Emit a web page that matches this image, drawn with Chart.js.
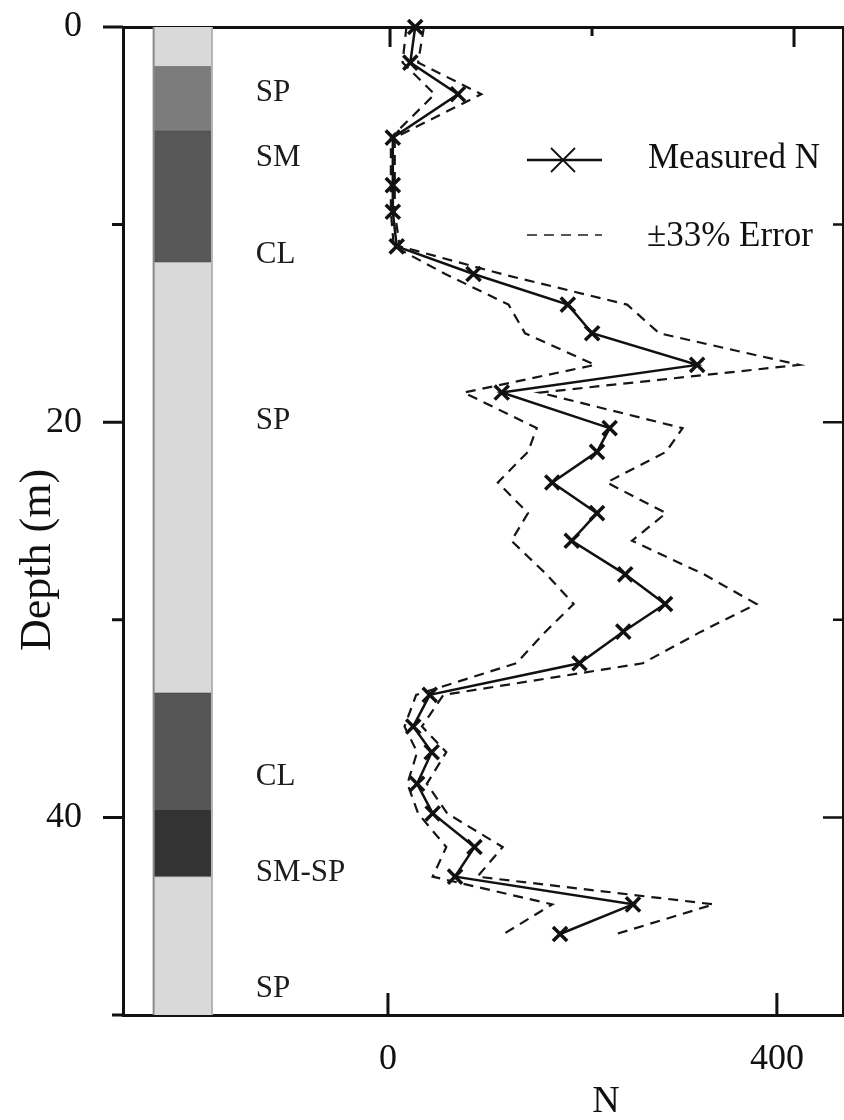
<!DOCTYPE html>
<html>
<head>
<meta charset="utf-8">
<script src="https://cdn.jsdelivr.net/npm/chart.js@4/dist/chart.umd.min.js"></script>
<style>
  html, body { margin: 0; padding: 0; background: #fff; }
  #wrap { width: 844px; height: 1120px; }
</style>
</head>
<body>
<div id="wrap"><canvas id="sptChart"></canvas></div>
<script>
// SPT blow count profile with soil column
const depths = [0, 1.8, 3.4, 5.6, 8.0, 9.35, 11.1, 12.5, 14.05, 15.5, 17.1, 18.5, 20.3, 21.5, 23.05,
                24.6, 26.0, 27.7, 29.2, 30.6, 32.2, 33.8, 35.4, 36.7, 38.3, 39.8, 41.5, 43.0, 44.4, 45.9];
const measuredN = [28, 23, 72, 5, 5, 5, 9, 88, 185, 210, 318, 117, 228, 215, 169,
                   215, 189, 244, 285, 242, 197, 43, 26, 45, 30, 46, 89, 69, 252, 177];
const upperN = [37, 31, 96, 7, 7, 7, 12, 117, 246, 279, 423, 156, 303, 286, 225,
                286, 251, 325, 379, 322, 262, 57, 35, 60, 40, 61, 118, 92, 335, 235];
const lowerN = [19, 15, 48, 3, 3, 3, 6, 59, 124, 141, 213, 78, 153, 144, 113,
                144, 127, 163, 191, 162, 132, 29, 17, 30, 20, 31, 60, 46, 169, 119];

// soil layers (depth in m)
const layerTops = [0, 2.0, 5.25, 11.9, 33.7, 39.6, 43.0];
const layerBottoms = [2.0, 5.25, 11.9, 33.7, 39.6, 43.0, 50];
const soilLabels = ['SP', 'SM', 'CL', 'SP', 'CL', 'SM-SP', 'SP'];
const soilLabelDepths = [3.35, 6.6, 11.55, 19.95, 37.95, 42.8, 48.7];

const xTicks = [0, 400];
const xTopTicks = [0, 200, 400];
const yTicks = [0, 10, 20, 30, 40, 50];
const yLabelled = [0, 20, 40];

const layerFills = ['#d9d9d9', '#7c7c7c', '#575757', '#d9d9d9', '#565656', '#333333', '#d9d9d9'];
const COL_LEFT = -241, COL_RIGHT = -181, LABEL_X = -136;
const INK = '#111';
const SERIF = "'Liberation Serif', 'Times New Roman', serif";

Chart.defaults.font.family = SERIF;

const soilColumn = {
  id: 'soilColumn',
  beforeDatasetsDraw(chart) {
    const { ctx, scales: { x, y } } = chart;
    const left = x.getPixelForValue(COL_LEFT);
    const right = x.getPixelForValue(COL_RIGHT);
    ctx.save();
    layerTops.forEach((top, i) => {
      const y0 = y.getPixelForValue(top);
      const y1 = y.getPixelForValue(layerBottoms[i]);
      ctx.fillStyle = layerFills[i];
      ctx.fillRect(left, y0, right - left, y1 - y0);
      if (i > 0) {
        ctx.strokeStyle = 'rgba(40,40,40,0.35)';
        ctx.lineWidth = 1;
        ctx.beginPath();
        ctx.moveTo(left, y0);
        ctx.lineTo(right, y0);
        ctx.stroke();
      }
    });
    const top = y.getPixelForValue(0), bottom = y.getPixelForValue(50);
    ctx.lineWidth = 2;
    ctx.strokeStyle = '#8a8a8a';
    ctx.beginPath(); ctx.moveTo(left, top); ctx.lineTo(left, bottom); ctx.stroke();
    ctx.strokeStyle = '#b4b4b4';
    ctx.beginPath(); ctx.moveTo(right, top); ctx.lineTo(right, bottom); ctx.stroke();

    ctx.fillStyle = '#1c1c1c';
    ctx.font = '31px ' + SERIF;
    ctx.textAlign = 'left';
    ctx.textBaseline = 'middle';
    soilLabels.forEach((txt, i) => {
      ctx.fillText(txt, x.getPixelForValue(LABEL_X), y.getPixelForValue(soilLabelDepths[i]));
    });
    ctx.restore();
  }
};

// tick marks, axis titles and legend
const axisExtras = {
  id: 'axisExtras',
  afterDraw(chart) {
    const { ctx, chartArea: a, scales: { x, x2, y } } = chart;
    ctx.save();
    ctx.strokeStyle = INK;
    ctx.lineCap = 'butt';

    ctx.lineWidth = 3;
    ctx.beginPath();
    yTicks.forEach(v => {
      const py = y.getPixelForValue(v);
      const len = yLabelled.includes(v) ? 20 : 11;
      ctx.moveTo(a.left, py);
      ctx.lineTo(a.left - len, py);
    });
    xTopTicks.forEach(v => {
      const px = x2.getPixelForValue(v);
      ctx.moveTo(px, a.top);
      ctx.lineTo(px, a.top + (v === 200 ? 9 : 20));
    });
    xTicks.forEach(v => {
      const px = x.getPixelForValue(v);
      ctx.moveTo(px, a.bottom);
      ctx.lineTo(px, a.bottom - 22);
    });
    ctx.stroke();

    ctx.lineWidth = 2.5;
    ctx.beginPath();
    yTicks.filter(v => v > 0 && v < 50).forEach(v => {
      const py = y.getPixelForValue(v);
      ctx.moveTo(a.right, py);
      ctx.lineTo(a.right - (yLabelled.includes(v) ? 20 : 10), py);
    });
    ctx.stroke();

    ctx.fillStyle = INK;
    ctx.textAlign = 'center';
    ctx.textBaseline = 'middle';
    ctx.font = '38px ' + SERIF;
    ctx.fillText('N', 606, 1102);

    ctx.save();
    ctx.translate(38, 560);
    ctx.rotate(-Math.PI / 2);
    ctx.font = '44px ' + SERIF;
    ctx.fillText('Depth (m)', 0, 0);
    ctx.restore();

    // legend
    const measured = chart.data.datasets[2];
    const error = chart.data.datasets[0];
    ctx.lineWidth = measured.borderWidth;
    ctx.setLineDash([]);
    ctx.beginPath();
    ctx.moveTo(527, 160); ctx.lineTo(602, 160);
    ctx.stroke();
    ctx.lineWidth = 1.8;
    ctx.beginPath();
    ctx.moveTo(551, 148); ctx.lineTo(575, 172);
    ctx.moveTo(575, 148); ctx.lineTo(551, 172);
    ctx.stroke();

    ctx.strokeStyle = '#555';
    ctx.lineWidth = 1.8;
    ctx.setLineDash(error.borderDash);
    ctx.beginPath();
    ctx.moveTo(527, 235); ctx.lineTo(602, 235);
    ctx.stroke();
    ctx.setLineDash([]);

    ctx.textAlign = 'left';
    ctx.font = '35px ' + SERIF;
    ctx.fillText(measured.label, 648, 159);
    ctx.fillText(error.label, 647, 237);
    ctx.restore();
  }
};

const toPoints = vals => vals.map((v, i) => ({ x: v, y: depths[i] }));

new Chart(document.getElementById('sptChart'), {
  type: 'scatter',
  data: {
    datasets: [
      {
        label: '±33% Error',
        data: toPoints(upperN),
        showLine: true,
        borderColor: '#151515',
        borderWidth: 2.2,
        borderDash: [10, 7],
        pointRadius: 0
      },
      {
        label: '±33% Error (lower)',
        data: toPoints(lowerN),
        showLine: true,
        borderColor: '#151515',
        borderWidth: 2.2,
        borderDash: [10, 7],
        pointRadius: 0
      },
      {
        label: 'Measured N',
        data: toPoints(measuredN),
        showLine: true,
        borderColor: INK,
        borderWidth: 2.5,
        pointStyle: 'crossRot',
        pointRadius: 10,
        pointBorderWidth: 3.5,
        pointBorderColor: INK,
        clip: false
      }
    ]
  },
  options: {
    responsive: true,
    maintainAspectRatio: false,
    animation: false,
    layout: { autoPadding: false, padding: { top: 27, right: 1, left: 0, bottom: 0 } },
    plugins: {
      legend: { display: false },
      tooltip: { enabled: false }
    },
    scales: {
      x: {
        type: 'linear',
        position: 'bottom',
        min: -272.5,
        max: 468,
        grid: { display: false, drawTicks: false },
        border: { display: true, width: 3, color: INK },
        ticks: { font: { size: 36 }, color: INK, padding: 23, maxRotation: 0 },
        afterBuildTicks: s => { s.ticks = xTicks.map(v => ({ value: v })); },
        afterFit: s => { s.height = 105; s.paddingLeft = 0; s.paddingRight = 0; }
      },
      x2: {
        type: 'linear',
        position: 'top',
        min: -264.4,
        max: 448.5,
        grid: { display: false, drawTicks: false },
        border: { display: true, width: 3, color: INK },
        ticks: { display: false },
        afterFit: s => { s.height = 0; s.paddingLeft = 0; s.paddingRight = 0; }
      },
      y: {
        type: 'linear',
        position: 'left',
        reverse: true,
        min: 0,
        max: 50,
        grid: { display: false, drawTicks: false },
        border: { display: true, width: 3, color: INK },
        ticks: { font: { size: 36 }, color: INK, padding: 41 },
        afterBuildTicks: s => { s.ticks = yLabelled.map(v => ({ value: v })); },
        afterFit: s => { s.width = 123; s.paddingTop = 0; s.paddingBottom = 0; }
      },
      y2: {
        type: 'linear',
        position: 'right',
        reverse: true,
        min: 0,
        max: 50,
        grid: { display: false, drawTicks: false },
        border: { display: true, width: 2, color: INK },
        ticks: { display: false },
        afterFit: s => { s.width = 0; s.paddingTop = 0; s.paddingBottom = 0; }
      }
    }
  },
  plugins: [soilColumn, axisExtras]
});
</script>
</body>
</html>
